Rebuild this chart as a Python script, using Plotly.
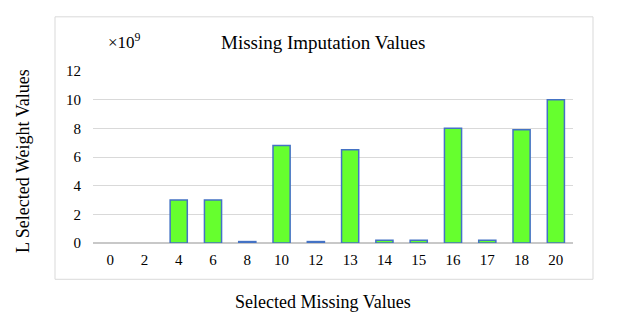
import plotly.graph_objects as go

categories = ["0", "2", "4", "6", "8", "10", "12", "13", "14", "15", "16", "17", "18", "20"]
values = [0, 0, 3.0, 3.0, 0.1, 6.8, 0.1, 6.5, 0.2, 0.2, 8.0, 0.2, 7.9, 10.0]
y_ticks = [0, 2, 4, 6, 8, 10, 12]

FONT = "Liberation Serif, Times New Roman, serif"

outline_widths = [0 if v == 0 else 1.5 for v in values]

fig = go.Figure(go.Bar(
    x=categories, y=values,
    marker=dict(color="#66FF2E", line=dict(color="#4472C4", width=outline_widths)),
))

L, R, T, B = 93, 47, 70.5, 84.5
W, H = 620, 328
pw = W - L - R
ph = H - T - B

def px_x(p):
    return (p - L) / pw

def px_y(p):
    return (H - B - p) / ph

fig.update_layout(
    width=W, height=H,
    margin=dict(l=L, r=R, t=T, b=B, pad=0),
    paper_bgcolor="white", plot_bgcolor="white",
    bargap=0.5, showlegend=False,
    font=dict(family=FONT, color="black", size=15),
    xaxis=dict(type="category", showgrid=False, showline=False, zeroline=False,
               tickfont=dict(family=FONT, size=15, color="black"), ticklabelstandoff=6),
    yaxis=dict(range=[0, 12], tickvals=y_ticks, showgrid=True, gridcolor="#D9D9D9", gridwidth=1,
               zeroline=True, zerolinecolor="#C8C8C8", zerolinewidth=2, showline=False,
               tickfont=dict(family=FONT, size=15, color="black"), ticklabelstandoff=11),
    shapes=[dict(type="rect", xref="paper", yref="paper",
                 x0=px_x(55), x1=px_x(593), y0=px_y(280), y1=px_y(16),
                 line=dict(color="#D9D9D9", width=1), layer="below")],
    annotations=[
        dict(text="Missing Imputation Values", xref="paper", yref="paper",
             x=px_x(323), y=px_y(42), showarrow=False, xanchor="center", yanchor="middle",
             font=dict(family=FONT, size=19, color="black")),
        dict(text="×10<sup>9</sup>", xref="paper", yref="paper",
             x=px_x(106), y=px_y(40), showarrow=False, xanchor="left", yanchor="middle",
             font=dict(family=FONT, size=17, color="black")),
        dict(text="L Selected Weight Values", xref="paper", yref="paper",
             x=px_x(23), y=px_y(161), showarrow=False, textangle=-90,
             xanchor="center", yanchor="middle",
             font=dict(family=FONT, size=18, color="black")),
        dict(text="Selected Missing Values", xref="paper", yref="paper",
             x=px_x(323), y=px_y(303), showarrow=False, xanchor="center", yanchor="middle",
             font=dict(family=FONT, size=18, color="black")),
    ],
)

fig.write_html("out.html", config={"displayModeBar": False},
               post_script="document.body.style.margin='0';")
